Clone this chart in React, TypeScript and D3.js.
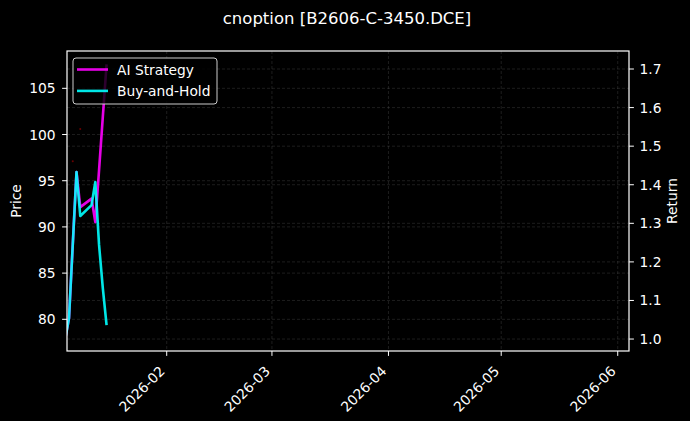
import React, { useRef, useEffect } from 'react';
import * as d3 from 'd3';

// trading days shown in the backtest
const tradeDates = [
  '2026-01-05', '2026-01-06', '2026-01-07', '2026-01-08', '2026-01-09',
  '2026-01-12', '2026-01-13', '2026-01-14', '2026-01-15', '2026-01-16',
];
const aiStrategy = [1.0, 1.054, 1.244, 1.433, 1.342, 1.364, 1.303, 1.438, 1.576, 1.712];
const buyAndHold = [1.0, 1.054, 1.244, 1.433, 1.319, 1.347, 1.407, 1.244, 1.132, 1.036];

// the few price marks that are not hidden under the return lines
const priceDates = ['2026-01-07', '2026-01-09'];
const priceValues = [97.1, 100.6];

const priceTicks = [80, 85, 90, 95, 100, 105];
const returnTicks = [1.0, 1.1, 1.2, 1.3, 1.4, 1.5, 1.6, 1.7];
const monthTicks = ['2026-02-01', '2026-03-01', '2026-04-01', '2026-05-01', '2026-06-01'];

const seriesNames = ['AI Strategy', 'Buy-and-Hold'];
const seriesColors = ['#ff00ff', '#00ffff'];

const parseDate = d3.timeParse('%Y-%m-%d');

const App: React.FC = () => {
  const svgRef = useRef<SVGSVGElement>(null);

  useEffect(() => {
    if (!svgRef.current) return;
    const width = 690;
    const height = 421;
    const margin = { top: 51, right: 61, bottom: 70, left: 67 };
    const innerW = width - margin.left - margin.right;
    const innerH = height - margin.top - margin.bottom;
    const font = 'DejaVu Sans, sans-serif';
    const fs = 13.8;

    const svg = d3.select(svgRef.current);
    svg.selectAll('*').remove();
    svg.attr('width', width).attr('height', height);

    svg.append('rect').attr('width', width).attr('height', height).attr('fill', '#000');

    const x = d3.scaleTime()
      .domain([new Date(2026, 0, 5, 11, 17), new Date(2026, 5, 4, 0, 0)])
      .range([0, innerW]);
    const yPrice = d3.scaleLinear().domain([76.57, 109.04]).range([innerH, 0]);
    const yRet = d3.scaleLinear().domain([0.969, 1.7467]).range([innerH, 0]);

    svg.append('defs').append('clipPath').attr('id', 'plot-clip')
      .append('rect').attr('width', innerW).attr('height', innerH);

    const g = svg.append('g').attr('transform', `translate(${margin.left},${margin.top})`);

    // grid
    const grid = g.append('g')
      .attr('stroke', '#808080')
      .attr('stroke-opacity', 0.32)
      .attr('stroke-width', 0.7)
      .attr('stroke-dasharray', '3,2');
    monthTicks.forEach(m => {
      const px = x(parseDate(m)!);
      grid.append('line').attr('x1', px).attr('x2', px).attr('y1', 0).attr('y2', innerH);
    });
    priceTicks.forEach(t => {
      grid.append('line').attr('x1', 0).attr('x2', innerW).attr('y1', yPrice(t)).attr('y2', yPrice(t));
    });
    returnTicks.forEach(t => {
      grid.append('line').attr('x1', 0).attr('x2', innerW).attr('y1', yRet(t)).attr('y2', yRet(t));
    });

    const plot = g.append('g').attr('clip-path', 'url(#plot-clip)');

    // price marks (dark red, mostly covered)
    plot.selectAll('circle.price')
      .data(priceDates.map((d, i) => ({ date: parseDate(d)!, value: priceValues[i] })))
      .enter()
      .append('circle')
      .attr('class', 'price')
      .attr('cx', d => x(d.date))
      .attr('cy', d => yPrice(d.value))
      .attr('r', 1)
      .attr('fill', '#6a0000');

    const line = d3.line<number>()
      .x((d, i) => x(parseDate(tradeDates[i])!))
      .y(d => yRet(d));

    [aiStrategy, buyAndHold].forEach((values, i) => {
      plot.append('path')
        .datum(values)
        .attr('d', line)
        .attr('fill', 'none')
        .attr('stroke', seriesColors[i])
        .attr('stroke-opacity', 0.9)
        .attr('stroke-width', 2.6)
        .attr('stroke-linejoin', 'round');
    });

    // spines
    g.append('rect')
      .attr('width', innerW)
      .attr('height', innerH)
      .attr('fill', 'none')
      .attr('stroke', '#fff')
      .attr('stroke-width', 1.2);

    // left axis ticks
    priceTicks.forEach(t => {
      const py = yPrice(t);
      g.append('line').attr('x1', -4.9).attr('x2', 0).attr('y1', py).attr('y2', py)
        .attr('stroke', '#fff').attr('stroke-width', 1);
      g.append('text')
        .attr('x', -11.5)
        .attr('y', py)
        .attr('text-anchor', 'end')
        .attr('dominant-baseline', 'central')
        .attr('font-family', font)
        .attr('font-size', fs)
        .attr('fill', '#fff')
        .text(t);
    });

    // right axis ticks
    returnTicks.forEach(t => {
      const py = yRet(t);
      g.append('line').attr('x1', innerW).attr('x2', innerW + 4.9).attr('y1', py).attr('y2', py)
        .attr('stroke', '#fff').attr('stroke-width', 1);
      g.append('text')
        .attr('x', innerW + 10.5)
        .attr('y', py)
        .attr('dominant-baseline', 'central')
        .attr('font-family', font)
        .attr('font-size', fs)
        .attr('fill', '#fff')
        .text(t.toFixed(1));
    });

    // x axis ticks
    monthTicks.forEach(m => {
      const px = x(parseDate(m)!);
      g.append('line').attr('x1', px).attr('x2', px).attr('y1', innerH).attr('y2', innerH + 4.9)
        .attr('stroke', '#fff').attr('stroke-width', 1);
      g.append('text')
        .attr('transform', `translate(${px - 1},${innerH + 21}) rotate(-45)`)
        .attr('text-anchor', 'end')
        .attr('font-family', font)
        .attr('font-size', fs)
        .attr('fill', '#fff')
        .text(d3.timeFormat('%Y-%m')(parseDate(m)!));
    });

    // axis labels
    svg.append('text')
      .attr('transform', `translate(21,${margin.top + innerH / 2}) rotate(-90)`)
      .attr('text-anchor', 'middle')
      .attr('font-family', font)
      .attr('font-size', fs)
      .attr('fill', '#fff')
      .text('Price');
    svg.append('text')
      .attr('transform', `translate(677,${margin.top + innerH / 2}) rotate(-90)`)
      .attr('text-anchor', 'middle')
      .attr('font-family', font)
      .attr('font-size', fs)
      .attr('fill', '#fff')
      .text('Return');

    // title
    svg.append('text')
      .attr('x', width / 2 + 2)
      .attr('y', 24)
      .attr('text-anchor', 'middle')
      .attr('font-family', font)
      .attr('font-size', 16.5)
      .attr('fill', '#fff')
      .text('cnoption [B2606-C-3450.DCE]');

    // legend
    const legend = g.append('g').attr('transform', 'translate(6,7)');
    legend.append('rect')
      .attr('width', 144)
      .attr('height', 46)
      .attr('rx', 3)
      .attr('fill', '#000')
      .attr('fill-opacity', 0.8)
      .attr('stroke', '#cccccc')
      .attr('stroke-width', 1);
    seriesNames.forEach((name, i) => {
      const ly = 11.5 + i * 21.4;
      legend.append('line')
        .attr('x1', 4).attr('x2', 35).attr('y1', ly).attr('y2', ly)
        .attr('stroke', seriesColors[i])
        .attr('stroke-opacity', 0.9)
        .attr('stroke-width', 2.6);
      legend.append('text')
        .attr('x', 44)
        .attr('y', ly)
        .attr('dominant-baseline', 'central')
        .attr('font-family', font)
        .attr('font-size', fs)
        .attr('fill', '#fff')
        .text(name);
    });
  }, []);

  return (
    <div style={{ position: 'fixed', left: 0, top: 0, width: 690, height: 421, background: '#000' }}>
      <svg ref={svgRef} style={{ display: 'block' }} />
    </div>
  );
};

export default App;
